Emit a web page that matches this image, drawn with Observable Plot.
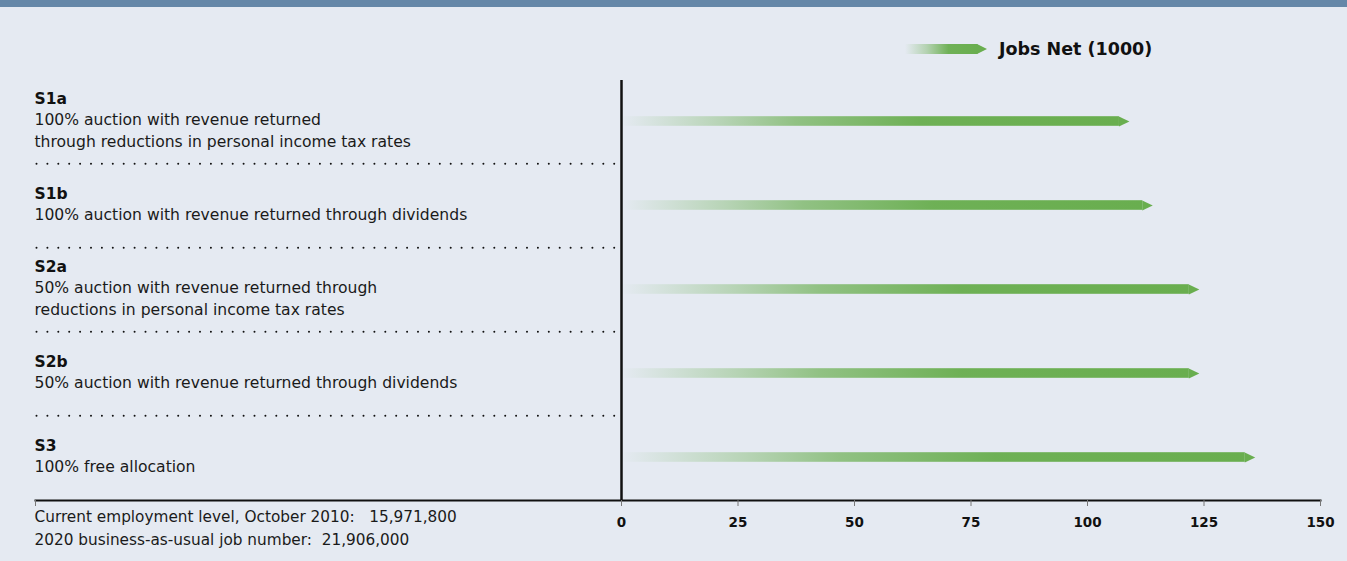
<!DOCTYPE html>
<html>
<head>
<meta charset="utf-8">
<script src="https://cdn.jsdelivr.net/npm/d3@7"></script>
<script src="https://cdn.jsdelivr.net/npm/@observablehq/plot@0.6"></script>
<style>
  html, body { margin: 0; padding: 0; background: #e5eaf2; }
  body { width: 1347px; height: 561px; overflow: hidden; position: relative; font-family: "DejaVu Sans", sans-serif; color: #111; }
  #band { height: 7px; background: #6587a8; }
  #legend { position: absolute; left: 905px; top: 37px; display: flex; align-items: center; height: 24px; }
  #legend span { margin-left: 12px; font-size: 17.5px; font-weight: 700; color: #111; }
  svg text { white-space: pre; }
</style>
</head>
<body>
<div id="band"></div>
<div id="legend"></div>
<div id="chart"></div>
<script>
// Scenarios, their descriptions and net jobs (thousands)
const scenarios = ["S1a", "S1b", "S2a", "S2b", "S3"];
const descriptions = [
  "100% auction with revenue returned\nthrough reductions in personal income tax rates",
  "100% auction with revenue returned through dividends",
  "50% auction with revenue returned through\nreductions in personal income tax rates",
  "50% auction with revenue returned through dividends",
  "100% free allocation"
];
const jobsNet = [109, 114, 124, 124, 136];
const tickValues = [0, 25, 50, 75, 100, 125, 150];
const seriesLabel = "Jobs Net (1000)";
const notes = [
  "Current employment level, October 2010:   15,971,800",
  "2020 business-as-usual job number:  21,906,000"
];

const green = "#69ae4f";
const ink = "#111";
const font = "'DejaVu Sans', sans-serif";

// layout
const width = 1347, height = 554;
const marginTop = 71, marginBottom = 61, marginLeft = 35, marginRight = 27;
const zeroPx = 621;               // where the zero line sits
const xMax = 150;
const pxPerUnit = (width - marginRight - zeroPx) / xMax;
const axisStart = -(zeroPx - marginLeft) / pxPerUnit;   // left end of the baseline
const bandStep = (height - marginTop - marginBottom) / scenarios.length;
const barThickness = 10;
const tipLength = 10;

const rows = scenarios.map((id, i) => ({ id, desc: descriptions[i], jobs: jobsNet[i] }));
const lineCount = s => s.split("\n").length;

// pointed end of each bar
const arrowTip = {
  draw(ctx) {
    ctx.moveTo(-tipLength - 0.5, -barThickness / 2);
    ctx.lineTo(0, 0);
    ctx.lineTo(-tipLength - 0.5, barThickness / 2);
    ctx.closePath();
  }
};

const chart = Plot.plot({
  width, height, marginTop, marginBottom, marginLeft, marginRight,
  style: { background: "transparent", fontFamily: font, color: ink, overflow: "visible" },
  x: { domain: [axisStart, xMax] },
  y: { domain: scenarios, padding: 0, axis: null },
  marks: [
    // dotted separators between scenarios
    Plot.ruleY(rows.slice(0, -1), {
      y: "id", x1: axisStart, x2: 0, dy: bandStep / 2,
      insetLeft: 1.5, insetRight: 6,
      stroke: ink, strokeWidth: 2, strokeLinecap: "round", strokeDasharray: "0 10.9"
    }),
    // fading bars with arrow heads
    Plot.barX(rows, {
      x: "jobs", y: "id",
      insetTop: (bandStep - barThickness) / 2, insetBottom: (bandStep - barThickness) / 2,
      insetRight: tipLength, fill: "url(#jobsFade)"
    }),
    Plot.dot(rows, { x: "jobs", y: "id", symbol: arrowTip, fill: green, stroke: "none" }),
    // zero line and baseline
    Plot.ruleX([0], { stroke: ink, strokeWidth: 2.5, insetTop: 2 }),
    Plot.frame({ anchor: "bottom", stroke: ink, strokeWidth: 2 }),
    Plot.axisX({
      ticks: [axisStart, ...tickValues],
      tickFormat: d => d < 0 ? "" : String(d),
      tickSize: 6, tickPadding: 11, stroke: "#777",
      fontSize: 13.5, fontWeight: 700, label: null
    }),
    // scenario names and descriptions
    Plot.text(rows, {
      x: axisStart, y: "id", dx: -1, dy: -3,
      text: d => d.id + "\n\u00a0".repeat(lineCount(d.desc)),
      textAnchor: "start", lineAnchor: "middle", lineHeight: 1.38,
      fontSize: 15.5, fontWeight: 700, fill: ink
    }),
    Plot.text(rows, {
      x: axisStart, y: "id", dx: -1, dy: -3,
      text: d => "\u00a0\n" + d.desc,
      textAnchor: "start", lineAnchor: "middle", lineHeight: 1.38,
      fontSize: 15.6, fill: "#1a1a1a"
    }),
    // employment notes under the labels
    Plot.text([notes.join("\n")], {
      x: axisStart, frameAnchor: "bottom", dx: -1, dy: 5,
      textAnchor: "start", lineAnchor: "top", lineHeight: 1.5,
      fontSize: 15.3, fill: "#1a1a1a"
    })
  ]
});

function addFade(svgSel, id, stops) {
  const grad = svgSel.insert("defs", ":first-child").append("linearGradient")
    .attr("id", id).attr("x1", 0).attr("x2", 1).attr("y1", 0).attr("y2", 0);
  for (const [offset, opacity] of stops) {
    grad.append("stop").attr("offset", offset).attr("stop-color", green).attr("stop-opacity", opacity);
  }
}

const fadeStops = [[0, 0], [0.2, 0.37], [0.35, 0.68], [0.6, 0.96], [1, 1]];
addFade(d3.select(chart), "jobsFade", fadeStops);
document.getElementById("chart").append(chart);

// legend swatch
const legend = d3.select("#legend");
const swatch = legend.append("svg").attr("width", 82).attr("height", barThickness);
addFade(swatch, "legendFade", [[0, 0], [0.3, 0.4], [0.6, 0.95], [1, 1]]);
swatch.append("rect").attr("width", 72.5).attr("height", barThickness).attr("fill", "url(#legendFade)");
swatch.append("path").attr("d", `M72,0L82,${barThickness / 2}L72,${barThickness}Z`).attr("fill", green);
legend.append("span").text(seriesLabel);
</script>
</body>
</html>
